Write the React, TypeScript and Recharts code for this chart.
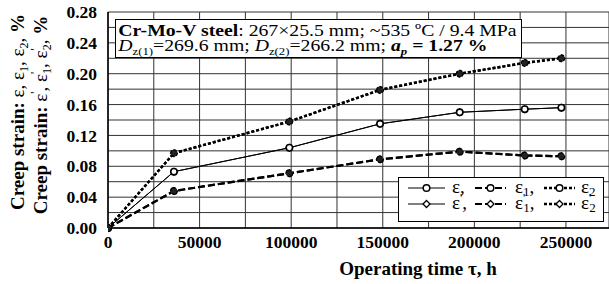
import React from 'react';
import { LineChart, Line, XAxis, YAxis, CartesianGrid, Label } from 'recharts';

const timeH = [0, 36000, 99000, 148500, 192000, 227500, 247500];
const eps = [0, 0.073, 0.104, 0.135, 0.150, 0.154, 0.156];
const eps1 = [0, 0.048, 0.071, 0.089, 0.099, 0.094, 0.093];
const eps2 = [0, 0.097, 0.138, 0.179, 0.200, 0.214, 0.220];
const epsP = [0, 0.073, 0.104, 0.135, 0.150, 0.154, 0.156];
const eps1P = [0, 0.048, 0.071, 0.089, 0.099, 0.094, 0.093];
const eps2P = [0, 0.097, 0.138, 0.179, 0.200, 0.214, 0.220];

const xTicks = [0, 25000, 50000, 75000, 100000, 125000, 150000, 175000, 200000, 225000, 250000];
const yTicks = [0, 0.02, 0.04, 0.06, 0.08, 0.1, 0.12, 0.14, 0.16, 0.18, 0.2, 0.22, 0.24, 0.26, 0.28];

const data = timeH.map((t, i) => ({
  t,
  eps: eps[i],
  eps1: eps1[i],
  eps2: eps2[i],
  epsP: epsP[i],
  eps1P: eps1P[i],
  eps2P: eps2P[i],
}));

const FONT = '"Liberation Serif", "Times New Roman", Times, serif';

const Diamond = (props: any) => {
  const { cx, cy } = props;
  if (cx == null || cy == null) return <g />;
  const s = 3.3;
  return (
    <path
      d={`M${cx},${cy - s}L${cx + s},${cy}L${cx},${cy + s}L${cx - s},${cy}Z`}
      fill="#fff"
      stroke="#000"
      strokeWidth={1.3}
    />
  );
};

const YTitle = () => (
  <g fontFamily={FONT} fill="#000">
    <text transform="translate(24,112) rotate(-90)" textAnchor="middle" fontSize={19}>
      <tspan fontWeight="bold">Creep strain: </tspan>
      <tspan>ε, ε</tspan>
      <tspan fontSize={12} dy={4}>1</tspan>
      <tspan dy={-4}>, ε</tspan>
      <tspan fontSize={12} dy={4}>2</tspan>
      <tspan dy={-4}>,  </tspan>
      <tspan fontWeight="bold">%</tspan>
    </text>
    <text transform="translate(47,115) rotate(-90)" textAnchor="middle" fontSize={19}>
      <tspan fontWeight="bold">Creep strain: </tspan>
      <tspan>ε</tspan>
      <tspan fontSize={12} dy={-8}>'</tspan>
      <tspan dy={8}>, ε</tspan>
      <tspan fontSize={12} dy={-8}>'</tspan>
      <tspan fontSize={12} dx={-2} dy={12}>1</tspan>
      <tspan dy={-4}>, ε</tspan>
      <tspan fontSize={12} dy={-8}>'</tspan>
      <tspan fontSize={12} dx={-2} dy={12}>2</tspan>
      <tspan dy={-4}>,  </tspan>
      <tspan fontWeight="bold">%</tspan>
    </text>
  </g>
);

const XTitle = () => (
  <text x={418} y={275} textAnchor="middle" fontFamily={FONT} fontSize={19} fontWeight="bold" fill="#000">
    Operating time τ, h
  </text>
);

const LegendBox = () => {
  const row1 = 11;
  const row2 = 27;
  const entries = [
    { x1: 10, x2: 47, dash: undefined as string | undefined, w: 1 },
    { x1: 77, x2: 108, dash: '7 3', w: 2.2 },
    { x1: 146, x2: 177, dash: '3 2', w: 2.4 },
  ];
  const circ = (cx: number, cy: number) => (
    <circle cx={cx} cy={cy} r={3.3} fill="#fff" stroke="#000" strokeWidth={1.5} />
  );
  const dia = (cx: number, cy: number) => {
    const s = 3.5;
    return (
      <path
        d={`M${cx},${cy - s}L${cx + s},${cy}L${cx},${cy + s}L${cx - s},${cy}Z`}
        fill="#fff"
        stroke="#000"
        strokeWidth={1.3}
      />
    );
  };
  return (
    <svg width={207} height={46} style={{ display: 'block' }}>
      <rect x={0.5} y={0.5} width={205} height={44} fill="#fff" stroke="#000" strokeWidth={1} />
      {[row1, row2].map((cy, r) => (
        <g key={r}>
          {entries.map((e, i) => (
            <g key={i}>
              <line x1={e.x1} x2={e.x2} y1={cy} y2={cy} stroke="#000" strokeWidth={e.w} strokeDasharray={e.dash} />
              {r === 0 ? circ((e.x1 + e.x2) / 2, cy) : dia((e.x1 + e.x2) / 2, cy)}
            </g>
          ))}
        </g>
      ))}
      <g fontFamily={FONT} fontSize={19} fill="#000">
        <text x={54} y={row1 + 5}>ε,</text>
        <text x={117} y={row1 + 5}>
          ε<tspan fontSize={13} dy={3}>1</tspan>
          <tspan dy={-3}>,</tspan>
        </text>
        <text x={183} y={row1 + 5}>
          ε<tspan fontSize={13} dy={3}>2</tspan>
        </text>
        <text x={54} y={row2 + 5}>
          ε<tspan fontSize={12} dy={-7}>'</tspan>
          <tspan dy={7}>,</tspan>
        </text>
        <text x={117} y={row2 + 5}>
          ε<tspan fontSize={12} dy={-7}>'</tspan>
          <tspan fontSize={13} dx={-2} dy={10}>1</tspan>
          <tspan dy={-3}>,</tspan>
        </text>
        <text x={183} y={row2 + 5}>
          ε<tspan fontSize={12} dy={-7}>'</tspan>
          <tspan fontSize={13} dx={-2} dy={10}>2</tspan>
        </text>
      </g>
    </svg>
  );
};

const subStyle: React.CSSProperties = { fontSize: 11, verticalAlign: '-4px', lineHeight: 0 };

export default function App() {
  return (
    <div style={{ position: 'absolute', left: 0, top: 0, width: 609, height: 284, background: '#fff', overflow: 'hidden' }}>
      <LineChart
        width={609}
        height={284}
        data={data}
        margin={{ top: 12, right: 0, left: 0, bottom: 0 }}
      >
        <CartesianGrid stroke="#333" strokeWidth={1} />
        <XAxis
          dataKey="t"
          type="number"
          domain={[0, 273500]}
          ticks={xTicks}
          allowDataOverflow
          interval={0}
          tickFormatter={(v: number) => (v % 50000 === 0 ? String(v) : '')}
          tick={{ fontFamily: FONT, fontSize: 17.5, fontWeight: 'bold', fill: '#000' }}
          tickLine={false}
          tickSize={0}
          tickMargin={8}
          axisLine={{ stroke: '#000', strokeWidth: 1.5 }}
          height={56}
        >
          <Label content={XTitle} />
        </XAxis>
        <YAxis
          type="number"
          domain={[0, 0.28]}
          ticks={yTicks}
          interval={0}
          tickFormatter={(v: number) => (Math.round(v * 100) % 4 === 0 ? v.toFixed(2) : '')}
          tick={{ fontFamily: FONT, fontSize: 17.5, fontWeight: 'bold', fill: '#000' }}
          tickLine={false}
          tickSize={0}
          tickMargin={11}
          axisLine={{ stroke: '#000', strokeWidth: 1.5 }}
          width={108}
        >
          <Label content={YTitle} />
        </YAxis>
        <Line type="linear" dataKey="epsP" stroke="#000" strokeWidth={1} dot={<Diamond />} isAnimationActive={false} />
        <Line type="linear" dataKey="eps1P" stroke="#000" strokeWidth={2.2} strokeDasharray="7 3" dot={<Diamond />} isAnimationActive={false} />
        <Line type="linear" dataKey="eps2P" stroke="#000" strokeWidth={2.4} strokeDasharray="3 2" dot={<Diamond />} isAnimationActive={false} />
        <Line type="linear" dataKey="eps" stroke="#000" strokeWidth={1} dot={{ r: 3.2, fill: '#fff', stroke: '#000', strokeWidth: 1.6 }} isAnimationActive={false} />
        <Line type="linear" dataKey="eps1" stroke="#000" strokeWidth={2.2} strokeDasharray="7 3" dot={{ r: 3.3, fill: '#222', stroke: '#000', strokeWidth: 1.3 }} isAnimationActive={false} />
        <Line type="linear" dataKey="eps2" stroke="#000" strokeWidth={2.4} strokeDasharray="3 2" dot={{ r: 3.3, fill: '#222', stroke: '#000', strokeWidth: 1.3 }} isAnimationActive={false} />
      </LineChart>
      <div style={{ position: 'absolute', left: 398, top: 177 }}>
        <LegendBox />
      </div>
      <div
        style={{
          position: 'absolute',
          left: 115,
          top: 19,
          width: 407,
          height: 39,
          border: '1px solid #000',
          background: '#fff',
          color: '#000',
          boxSizing: 'border-box',
        }}
      >
        <div
          style={{
            fontFamily: FONT,
            fontSize: 17,
            lineHeight: '15px',
            padding: '3px 0 0 2px',
            whiteSpace: 'nowrap',
            transform: 'scaleX(1.16)',
            transformOrigin: '0 0',
          }}
        >
          <div>
            <b>Cr-Mo-V steel</b>: 267×25.5 mm; ~535 ºC / 9.4 MPa
          </div>
          <div>
            <i>D</i>
            <span style={subStyle}>z(1)</span>=269.6 mm; <i>D</i>
            <span style={subStyle}>z(2)</span>=266.2 mm; <b><i>a<span style={subStyle}>p</span></i> = 1.27 %</b>
          </div>
        </div>
      </div>
    </div>
  );
}
